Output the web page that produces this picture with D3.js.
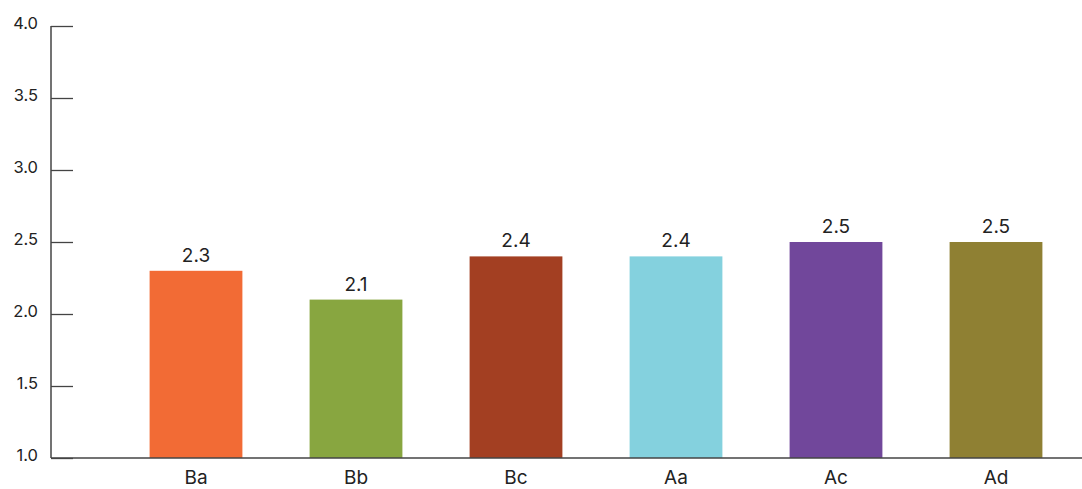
<!DOCTYPE html>
<html>
<head>
<meta charset="utf-8">
<script src="https://cdn.jsdelivr.net/npm/d3@7/dist/d3.min.js"></script>
<style>
  html, body { margin: 0; padding: 0; background: #fff; }
  svg { display: block; }
  text { font-family: Inter, "Open Sans", sans-serif; fill: #222; }
</style>
</head>
<body>
<svg id="chart" width="1082" height="489"></svg>
<script>
const categories = ["Ba", "Bb", "Bc", "Aa", "Ac", "Ad"];
const values = [2.3, 2.1, 2.4, 2.4, 2.5, 2.5];
const colors = ["#F26B35", "#88A640", "#A33F22", "#84D1DE", "#71479B", "#8F8033"];
const yTicks = [1.0, 1.5, 2.0, 2.5, 3.0, 3.5, 4.0];

const svg = d3.select("#chart");
const axisX = 51, baseY = 458, topY = 26;

const x = d3.scaleBand()
  .domain(categories)
  .range([116, 1076])
  .paddingInner(0.42)
  .paddingOuter(0.21);

const y = d3.scaleLinear().domain([1, 4]).range([baseY, topY]);

// bars
svg.append("g").selectAll("rect")
  .data(categories)
  .join("rect")
  .attr("x", (d) => x(d))
  .attr("width", x.bandwidth())
  .attr("y", (d, i) => y(values[i]))
  .attr("height", (d, i) => baseY - y(values[i]))
  .attr("fill", (d, i) => colors[i]);

// value labels above each bar
svg.append("g").selectAll("text")
  .data(categories)
  .join("text")
  .attr("x", (d) => x(d) + x.bandwidth() / 2)
  .attr("y", (d, i) => y(values[i]) - 9)
  .attr("text-anchor", "middle")
  .style("font-size", "19px")
  .style("font-weight", 400)
  .text((d, i) => values[i].toFixed(1));

// y axis: ticks point inward, labels on the left
const yAxis = d3.axisRight(y)
  .tickValues(yTicks)
  .tickSize(22)
  .tickFormat(d3.format(".1f"));
const gy = svg.append("g").attr("transform", `translate(${axisX},0)`).call(yAxis);
gy.select(".domain").remove();
gy.selectAll(".tick line").attr("stroke", "#444").attr("stroke-width", 1.3);
gy.selectAll(".tick text")
  .attr("x", -13)
  .attr("y", 2)
  .attr("dy", 0)
  .attr("text-anchor", "end")
  .style("font-size", "16.5px")
  .style("font-weight", 400)
  .style("font-family", "Inter, sans-serif")
  .attr("fill", "#222");
gy.append("line")
  .attr("x1", 0).attr("x2", 0)
  .attr("y1", topY).attr("y2", baseY)
  .attr("stroke", "#444").attr("stroke-width", 1.5);

// x axis baseline and category labels
const gx = svg.append("g").attr("transform", `translate(0,${baseY})`)
  .call(d3.axisBottom(x).tickSize(0));
gx.select(".domain").remove();
gx.append("line")
  .attr("x1", axisX).attr("x2", 1082)
  .attr("y1", 0).attr("y2", 0)
  .attr("stroke", "#444").attr("stroke-width", 1.5);
gx.selectAll(".tick text")
  .attr("y", 26)
  .attr("dy", 0)
  .style("font-size", "19px")
  .style("font-weight", 400)
  .style("font-family", "Inter, sans-serif")
  .attr("fill", "#222");
</script>
</body>
</html>
